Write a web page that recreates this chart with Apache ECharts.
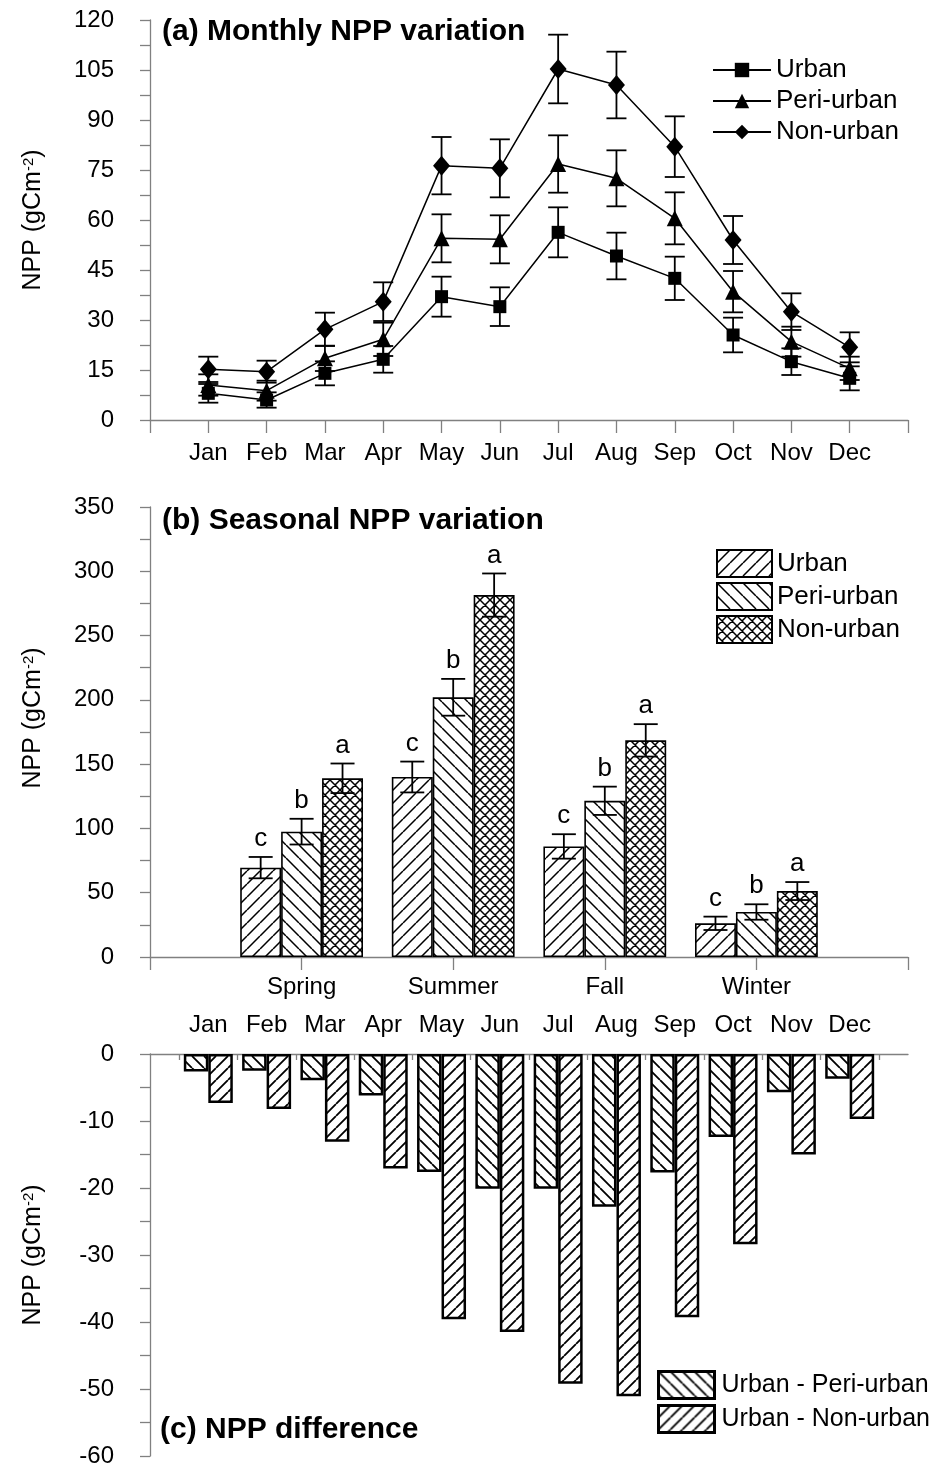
<!DOCTYPE html>
<html>
<head>
<meta charset="utf-8">
<script src="https://cdn.jsdelivr.net/npm/echarts@6/dist/echarts.min.js"></script>
<style>
  html, body { margin: 0; padding: 0; background: #fff; }
  #chart { width: 935px; height: 1465px; }
</style>
</head>
<body>
<div id="chart"></div>
<script>
// (a) monthly NPP
const months = ["Jan", "Feb", "Mar", "Apr", "May", "Jun", "Jul", "Aug", "Sep", "Oct", "Nov", "Dec"];
const urbanNPP = [8, 6, 14, 18.2, 37, 34, 56.3, 49.2, 42.5, 25.5, 17.5, 12.5];
const urbanErr = [2.8, 2.3, 3.6, 4, 6, 5.8, 7.5, 7, 6.5, 5.2, 4, 3.6];
const periNPP = [10.5, 8.8, 18.5, 24.2, 54.5, 54.2, 76.8, 72.5, 60.5, 38.5, 23.5, 15.5];
const periErr = [3.2, 3, 3.8, 5, 7.2, 7.2, 8.6, 8.4, 7.8, 6.2, 4.5, 3.5];
const nonNPP = [15.2, 14.5, 27.2, 35.5, 76.3, 75.5, 105.3, 100.5, 82, 54, 32.5, 21.8];
const nonErr = [3.8, 3.3, 5, 5.8, 8.6, 8.7, 10.3, 10, 9.1, 7.2, 5.5, 4.5];

// (b) seasonal NPP
const seasons = ["Spring", "Summer", "Fall", "Winter"];
const urbanSeason = [69.5, 140, 86, 26.2];
const urbanSeasonErr = [8.3, 12, 9.5, 5.2];
const periSeason = [97.5, 202, 121.5, 35];
const periSeasonErr = [10, 14.3, 11, 6];
const nonSeason = [139, 281.5, 168.5, 51.3];
const nonSeasonErr = [11.5, 16.8, 12.6, 7];
const seasonLetters = ["c", "b", "a"];

// (c) differences
const diffPeri = [-2.6, -2.5, -3.9, -6.2, -17.6, -20.1, -20.1, -22.8, -17.7, -12.4, -5.7, -3.7];
const diffNon = [-7.3, -8.2, -13.1, -17.1, -39.6, -41.5, -49.2, -51.1, -39.3, -28.4, -15.0, -9.7];

const FONT = "'Liberation Sans', Arial, Helvetica, sans-serif";
const AXIS_GREY = "#808080";

// hatch fills drawn on small tiles
function hatch(kind, p, lw) {
  const c = document.createElement("canvas");
  c.width = p; c.height = p;
  const g = c.getContext("2d");
  g.fillStyle = "#fff";
  g.fillRect(0, 0, p, p);
  g.strokeStyle = "#000";
  g.lineWidth = lw;
  g.beginPath();
  for (const k of [-p, 0, p]) {
    if (kind !== "\\") { g.moveTo(k, p); g.lineTo(k + p, 0); }
    if (kind !== "/") { g.moveTo(k, 0); g.lineTo(k + p, p); }
  }
  g.stroke();
  return { image: c, repeat: "repeat" };
}

const SEASON_GAP = 0.19;

function errorBars(capW, letters, barIndex) {
  return function (params, api) {
    const x = api.value(0), y = api.value(1), e = api.value(2);
    let dx = 0;
    if (barIndex !== undefined) {
      const barW = api.size([1, 0])[0] * (1 - SEASON_GAP) / 3;
      dx = (barIndex - 1) * barW;
    }
    const top = api.coord([x, y + e]);
    const bot = api.coord([x, y - e]);
    const cx = top[0] + dx;
    const st = { stroke: "#000", lineWidth: 1.8 };
    const children = [
      { type: "line", shape: { x1: cx, y1: top[1], x2: cx, y2: bot[1] }, style: st },
      { type: "line", shape: { x1: cx - capW / 2, y1: top[1], x2: cx + capW / 2, y2: top[1] }, style: st },
      { type: "line", shape: { x1: cx - capW / 2, y1: bot[1], x2: cx + capW / 2, y2: bot[1] }, style: st }
    ];
    if (letters) {
      children.push({
        type: "text", x: cx, y: top[1] - 5,
        style: { text: letters, fontSize: 26, fontFamily: FONT, fill: "#000", align: "center", verticalAlign: "bottom" }
      });
    }
    return { type: "group", children: children };
  };
}

function yName(shift) {
  return {
    name: "NPP (gCm{sup|-2})",
    nameLocation: "middle",
    nameGap: 104,
    nameTextStyle: {
      fontSize: 25, fontFamily: FONT, color: "#000",
      padding: [0, 0, 0, shift || 0],
      rich: { sup: { fontSize: 15, fontFamily: FONT, color: "#000", verticalAlign: "top", lineHeight: 15 } }
    }
  };
}

const axisLine = { show: true, onZero: false, lineStyle: { color: AXIS_GREY, width: 1.3 } };
const tickStyle = { color: AXIS_GREY, width: 1.3 };
const labelStyle = { color: "#000", fontSize: 24, fontFamily: FONT };
const legendText = { fontSize: 26, fontFamily: FONT, color: "#000" };
const titleText = { fontSize: 30, fontWeight: "bold", fontFamily: FONT, color: "#000" };

const chart = echarts.init(document.getElementById("chart"));

const option = {
  backgroundColor: "#fff",
  animation: false,
  title: [
    { text: "(a) Monthly NPP variation", left: 162, top: 17, padding: 0, textStyle: titleText },
    { text: "(b) Seasonal NPP variation", left: 162, top: 506, padding: 0, textStyle: titleText },
    { text: "(c) NPP difference", left: 160, top: 1415, padding: 0, textStyle: titleText }
  ],
  legend: [
    {
      data: ["Urban", "Peri-urban", "Non-urban"],
      orient: "vertical", left: 712, top: 57, padding: 0,
      itemWidth: 58, itemHeight: 18, itemGap: 5,
      textStyle: Object.assign({ lineHeight: 26 }, legendText)
    },
    {
      data: ["Urban (s)", "Peri-urban (s)", "Non-urban (s)"],
      formatter: n => n.replace(" (s)", ""),
      orient: "vertical", left: 716, top: 549, padding: 0,
      icon: "rect", itemWidth: 55, itemHeight: 27, itemGap: 4,
      itemStyle: { borderColor: "#000", borderWidth: 2 },
      textStyle: Object.assign({ lineHeight: 27 }, legendText)
    },
    {
      data: ["Urban - Peri-urban", "Urban - Non-urban"],
      orient: "vertical", left: 657, top: 1370, padding: 0,
      icon: "rect", itemWidth: 56, itemHeight: 27, itemGap: 4,
      itemStyle: { borderColor: "#000", borderWidth: 3 },
      textStyle: { fontSize: 25, fontFamily: FONT, color: "#000", lineHeight: 27, padding: [0, 0, 0, 2] }
    }
  ],
  grid: [
    { left: 150, right: 27, top: 20, height: 400, outerBoundsMode: "none" },
    { left: 150, right: 27, top: 507, height: 450, outerBoundsMode: "none" },
    { left: 150, right: 27, top: 1054, height: 402, outerBoundsMode: "none" }
  ],
  xAxis: [
    {
      gridIndex: 0, type: "value", min: 0, max: 13, interval: 1,
      axisLine: axisLine, splitLine: { show: false },
      axisTick: { show: true, length: 13, lineStyle: tickStyle },
      axisLabel: Object.assign({ margin: 21, formatter: v => months[v - 1] || "" }, labelStyle)
    },
    {
      gridIndex: 1, type: "value", min: 0, max: 5, interval: 1,
      axisLine: axisLine, splitLine: { show: false },
      axisTick: { show: true, length: 13, lineStyle: tickStyle },
      axisLabel: Object.assign({ margin: 18, formatter: v => seasons[v - 1] || "" }, labelStyle)
    },
    {
      gridIndex: 2, type: "value", position: "top", min: 0, max: 13, interval: 1,
      axisLine: axisLine, splitLine: { show: false },
      axisTick: { show: false, inside: true },
      minorTick: { show: true, splitNumber: 2, length: 6, lineStyle: tickStyle },
      minorSplitLine: { show: false },
      axisLabel: Object.assign({ margin: 17, formatter: v => months[v - 1] || "" }, labelStyle)
    }
  ],
  yAxis: [
    Object.assign({
      gridIndex: 0, type: "value", min: 0, max: 120, interval: 15,
      axisLine: axisLine, splitLine: { show: false },
      axisTick: { show: true, length: 10, lineStyle: tickStyle },
      minorTick: { show: true, splitNumber: 2, length: 10, lineStyle: tickStyle },
      axisLabel: Object.assign({ margin: 36 }, labelStyle)
    }, yName(0)),
    Object.assign({
      gridIndex: 1, type: "value", min: 0, max: 350, interval: 50,
      axisLine: axisLine, splitLine: { show: false },
      axisTick: { show: true, length: 10, lineStyle: tickStyle },
      minorTick: { show: true, splitNumber: 2, length: 10, lineStyle: tickStyle },
      axisLabel: Object.assign({ margin: 36 }, labelStyle)
    }, yName(28)),
    Object.assign({
      gridIndex: 2, type: "value", min: -60, max: 0, interval: 10,
      axisLine: axisLine, splitLine: { show: false },
      axisTick: { show: true, length: 10, lineStyle: tickStyle },
      minorTick: { show: true, splitNumber: 2, length: 10, lineStyle: tickStyle },
      axisLabel: Object.assign({ margin: 36 }, labelStyle)
    }, yName(0))
  ],
  series: [
    // --- (a) error bars + lines ---
    { type: "custom", xAxisIndex: 0, yAxisIndex: 0, z: 2, renderItem: errorBars(20),
      data: months.map((m, i) => [i + 1, urbanNPP[i], urbanErr[i]]) },
    { type: "custom", xAxisIndex: 0, yAxisIndex: 0, z: 2, renderItem: errorBars(20),
      data: months.map((m, i) => [i + 1, periNPP[i], periErr[i]]) },
    { type: "custom", xAxisIndex: 0, yAxisIndex: 0, z: 2, renderItem: errorBars(20),
      data: months.map((m, i) => [i + 1, nonNPP[i], nonErr[i]]) },
    { type: "line", name: "Urban", xAxisIndex: 0, yAxisIndex: 0, z: 3,
      symbol: "rect", symbolSize: 13,
      lineStyle: { color: "#000", width: 1.5 }, itemStyle: { color: "#000" },
      data: months.map((m, i) => [i + 1, urbanNPP[i]]) },
    { type: "line", name: "Peri-urban", xAxisIndex: 0, yAxisIndex: 0, z: 3,
      symbol: "triangle", symbolSize: 16,
      lineStyle: { color: "#000", width: 1.5 }, itemStyle: { color: "#000" },
      data: months.map((m, i) => [i + 1, periNPP[i]]) },
    { type: "line", name: "Non-urban", xAxisIndex: 0, yAxisIndex: 0, z: 3,
      symbol: "diamond", symbolSize: [17, 20],
      lineStyle: { color: "#000", width: 1.5 }, itemStyle: { color: "#000" },
      data: months.map((m, i) => [i + 1, nonNPP[i]]) },

    // --- (b) seasonal bars ---
    { type: "bar", name: "Urban (s)", xAxisIndex: 1, yAxisIndex: 1,
      barGap: "0%", barCategoryGap: (SEASON_GAP * 100) + "%",
      itemStyle: { color: hatch("/", 13, 1.5), borderColor: "#000", borderWidth: 1.6 },
      data: seasons.map((s, i) => [i + 1, urbanSeason[i]]) },
    { type: "bar", name: "Peri-urban (s)", xAxisIndex: 1, yAxisIndex: 1,
      barGap: "0%", barCategoryGap: (SEASON_GAP * 100) + "%",
      itemStyle: { color: hatch("\\", 13, 1.5), borderColor: "#000", borderWidth: 1.6 },
      data: seasons.map((s, i) => [i + 1, periSeason[i]]) },
    { type: "bar", name: "Non-urban (s)", xAxisIndex: 1, yAxisIndex: 1,
      barGap: "0%", barCategoryGap: (SEASON_GAP * 100) + "%",
      itemStyle: { color: hatch("x", 10, 1.5), borderColor: "#000", borderWidth: 1.6 },
      data: seasons.map((s, i) => [i + 1, nonSeason[i]]) },
    { type: "custom", xAxisIndex: 1, yAxisIndex: 1, z: 5, renderItem: errorBars(24, seasonLetters[0], 0),
      data: seasons.map((s, i) => [i + 1, urbanSeason[i], urbanSeasonErr[i]]) },
    { type: "custom", xAxisIndex: 1, yAxisIndex: 1, z: 5, renderItem: errorBars(24, seasonLetters[1], 1),
      data: seasons.map((s, i) => [i + 1, periSeason[i], periSeasonErr[i]]) },
    { type: "custom", xAxisIndex: 1, yAxisIndex: 1, z: 5, renderItem: errorBars(24, seasonLetters[2], 2),
      data: seasons.map((s, i) => [i + 1, nonSeason[i], nonSeasonErr[i]]) },

    // --- (c) difference bars ---
    { type: "bar", name: "Urban - Peri-urban", xAxisIndex: 2, yAxisIndex: 2,
      barGap: "0%", barCategoryGap: "16%",
      itemStyle: { color: hatch("\\", 12, 1.8), borderColor: "#000", borderWidth: 2.5 },
      data: months.map((m, i) => [i + 1, diffPeri[i]]) },
    { type: "bar", name: "Urban - Non-urban", xAxisIndex: 2, yAxisIndex: 2,
      barGap: "0%", barCategoryGap: "16%",
      itemStyle: { color: hatch("/", 12, 1.8), borderColor: "#000", borderWidth: 2.5 },
      data: months.map((m, i) => [i + 1, diffNon[i]]) }
  ]
};

chart.setOption(option);
window.addEventListener("resize", () => chart.resize());
</script>
</body>
</html>
